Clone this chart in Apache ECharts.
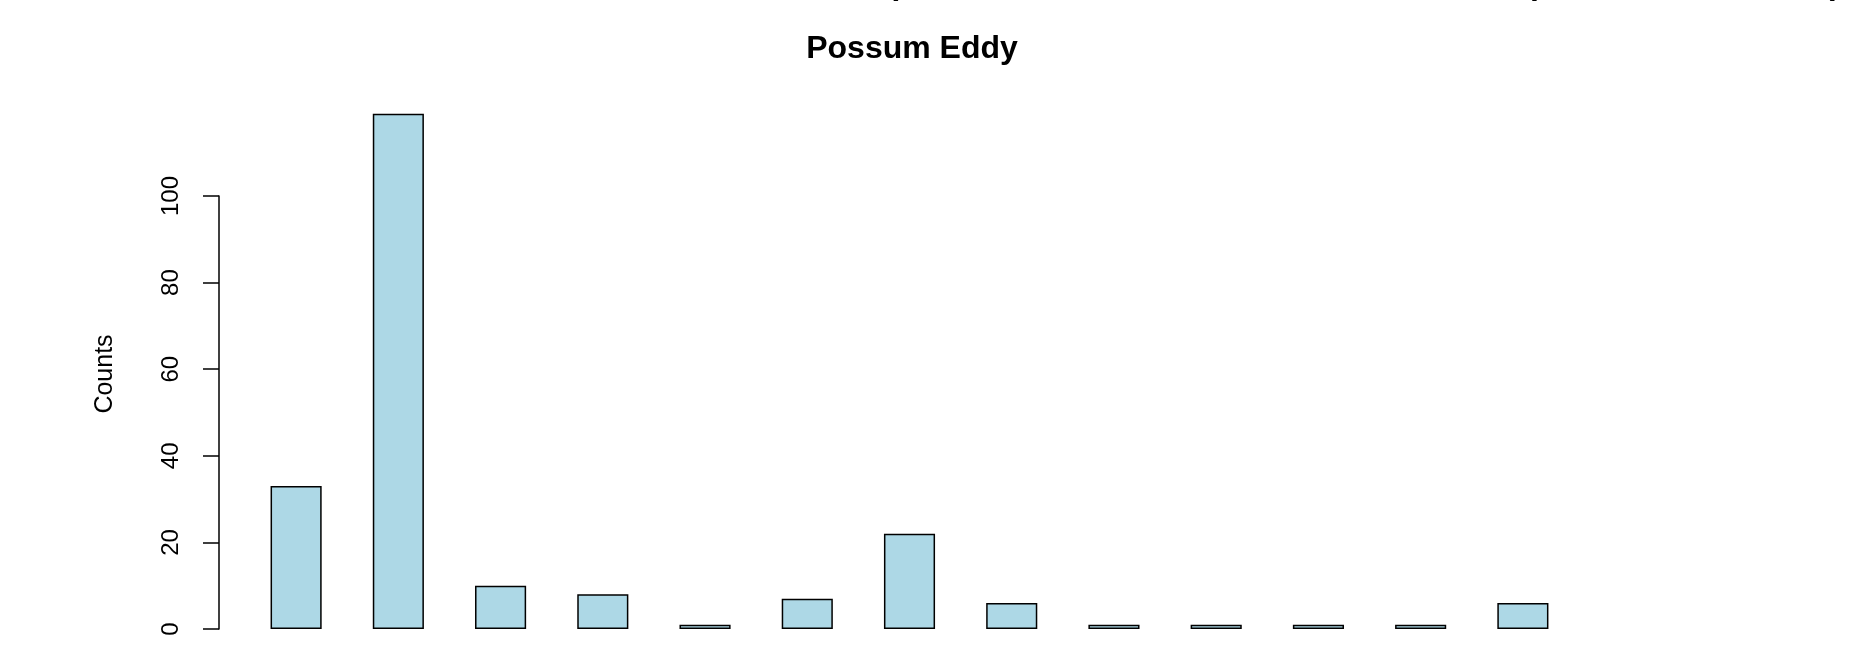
<!DOCTYPE html>
<html>
<head>
<meta charset="utf-8">
<script src="https://cdn.jsdelivr.net/npm/echarts@6/dist/echarts.min.js"></script>
<style>
html,body{margin:0;padding:0;background:#fff;}
#chart{width:1855px;height:658px;}
</style>
</head>
<body>
<div id="chart"></div>
<script>
const categories = ['c1','c2','c3','c4','c5','c6','c7','c8','c9','c10','c11','c12','c13'];
const counts = [33, 119, 10, 8, 1, 7, 22, 6, 1, 1, 1, 1, 6];
const yTicks = [0, 20, 40, 60, 80, 100];
const titleText = 'Possum Eddy';
const yLabel = 'Counts';

const chart = echarts.init(document.getElementById('chart'), null, {renderer: 'canvas'});
const FONT = '"Liberation Sans", Arial, Helvetica, sans-serif';
chart.setOption({
  animation: false,
  backgroundColor: '#ffffff',
  title: {
    text: titleText,
    left: 907,
    textAlign: 'center',
    top: 28,
    textStyle: {fontFamily: FONT, fontWeight: 'bold', fontSize: 32, color: '#000'}
  },
  grid: {left: 245, right: 281, top: 196, bottom: 29, containLabel: false},
  xAxis: {
    type: 'category',
    data: categories,
    axisLine: {show: false},
    axisTick: {show: false},
    axisLabel: {show: false},
    splitLine: {show: false}
  },
  yAxis: {
    type: 'value',
    min: yTicks[0],
    max: yTicks[yTicks.length - 1],
    interval: 20,
    offset: 26,
    axisLine: {show: true, lineStyle: {color: '#000', width: 1.5}},
    axisTick: {show: true, length: 16, lineStyle: {color: '#000', width: 1.5}},
    axisLabel: {show: true, rotate: 90, margin: 36, fontFamily: FONT, fontSize: 24, color: '#000'},
    splitLine: {show: false}
  },
  graphic: [
    {
      type: 'text',
      x: 105, y: 374,
      rotation: Math.PI / 2,
      style: {text: yLabel, fontFamily: FONT, fontSize: 25, fill: '#000', align: 'center', verticalAlign: 'middle'}
    },
    {type: 'text', x: 893, y: -15, style: {text: '(', fontFamily: FONT, fontWeight: 'bold', fontSize: 32, fill: '#000', align: 'center', verticalAlign: 'middle'}},
    {type: 'text', x: 1530, y: -15, style: {text: 'p', fontFamily: FONT, fontWeight: 'bold', fontSize: 32, fill: '#000', align: 'left', verticalAlign: 'middle'}},
    {type: 'text', x: 1835, y: -15, style: {text: ')', fontFamily: FONT, fontWeight: 'bold', fontSize: 32, fill: '#000', align: 'center', verticalAlign: 'middle'}}
  ],
  series: [{
    type: 'bar',
    data: counts,
    barWidth: '50%',
    clip: false,
    itemStyle: {color: '#ADD8E6', borderColor: '#000', borderWidth: 1.5},
    emphasis: {disabled: true}
  }]
});
</script>
</body>
</html>
